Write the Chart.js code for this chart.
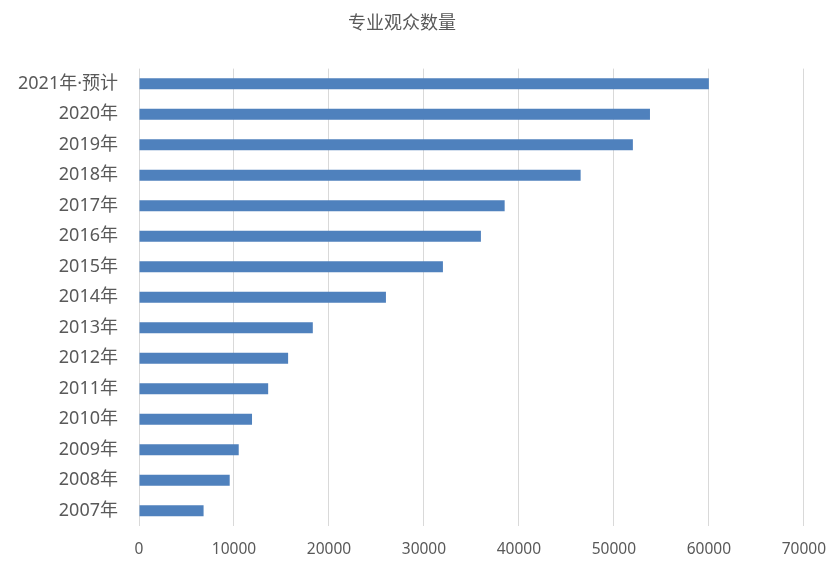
<!DOCTYPE html>
<html>
<head>
<meta charset="utf-8">
<script src="https://cdn.jsdelivr.net/npm/chart.js@4"></script>
<style>
    html, body { margin: 0; padding: 0; background: #fff; }
    #wrap { width: 840px; height: 587px; }
</style>
</head>
<body>
<div id="wrap"><canvas id="bars"></canvas></div>
<script>
// 데이터
const years = ["2021年·预计", "2020年", "2019年", "2018年", "2017年", "2016年", "2015年", "2014年",
    "2013年", "2012年", "2011年", "2010年", "2009年", "2008年", "2007年"];
const visitors = [60000, 53800, 52000, 46500, 38500, 36000, 32000, 26000,
    18300, 15700, 13600, 11900, 10500, 9550, 6800];
const xTicks = [0, 10000, 20000, 30000, 40000, 50000, 60000, 70000];

// 라틴 문자는 Noto Sans, 한자는 CJK 폰트로
const FONT = '"Noto Sans", "Noto Sans CJK SC", sans-serif';
const GRAY = '#595959';

new Chart(document.getElementById("bars"), {
    type: "bar",
    data: {
        labels: years,
        datasets: [{
            data: visitors,
            backgroundColor: '#4f81bd',
            borderWidth: 0,
            categoryPercentage: 0.8,
            barPercentage: 0.45
        }]
    },
    options: {
        indexAxis: 'y',
        responsive: true,
        maintainAspectRatio: false,
        animation: false,
        layout: {
            padding: { left: 0, right: 36, top: 0, bottom: 0 }
        },
        plugins: {
            legend: { display: false },
            tooltip: { enabled: false },
            title: {
                display: true,
                text: '专业观众数量',
                color: GRAY,
                font: { family: FONT, size: 18, weight: 'normal' },
                padding: { top: 13, bottom: 34 }
            }
        },
        scales: {
            x: {
                min: 0,
                max: 70000,
                afterBuildTicks: function (scale) {
                    scale.ticks = xTicks.map(v => ({ value: v }));   // 눈금 고정
                },
                afterFit: function (scale) {
                    scale.height = 61;
                },
                border: { display: false },
                grid: {
                    color: '#d9d9d9',
                    lineWidth: 1,
                    drawTicks: false
                },
                ticks: {
                    color: GRAY,
                    padding: 14,
                    maxRotation: 0,
                    callback: function (value) {
                        return String(value);    // 천 단위 콤마 없음
                    },
                    font: { family: FONT, size: 15.5 }
                }
            },
            y: {
                afterFit: function (scale) {
                    scale.width = 139;
                },
                border: { display: false },
                grid: { display: false, drawTicks: false },
                ticks: {
                    color: GRAY,
                    padding: 21,
                    font: { family: FONT, size: 18 }
                }
            }
        }
    }
});
</script>
</body>
</html>
